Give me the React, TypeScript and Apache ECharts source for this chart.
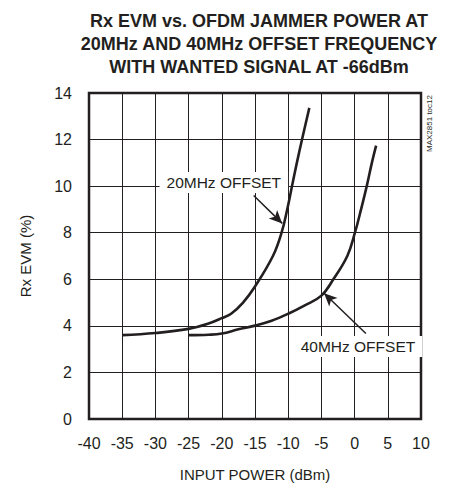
import React, { useEffect, useRef } from "react";
import * as echarts from "echarts";

const titleLines = [
  "Rx EVM vs. OFDM JAMMER POWER AT",
  "20MHz AND 40MHz OFFSET FREQUENCY",
  "WITH WANTED SIGNAL AT -66dBm",
];
const xAxisName = "INPUT POWER (dBm)";
const yAxisName = "Rx EVM (%)";
const sideNote = "MAX2851 toc12";

const xRange = [-40, 10];
const yRange = [0, 14];

const offset20Power = [-35, -30, -25, -22, -20, -18.6, -16.8, -15, -12.3, -11.0, -10.15, -9.43, -8.7, -7.92, -6.82];
const offset20Evm = [3.6, 3.69, 3.87, 4.1, 4.33, 4.52, 5.0, 5.69, 7.0, 8.0, 9.0, 10.0, 11.0, 12.0, 13.36];

const offset40Power = [-25, -22, -20, -17.5, -15, -12.5, -10, -7.5, -5, -3.2, -1.1, 0.05, 0.97, 1.83, 2.6, 3.24];
const offset40Evm = [3.6, 3.62, 3.67, 3.85, 4.01, 4.22, 4.52, 4.88, 5.3, 6.0, 7.0, 8.0, 9.0, 10.0, 11.0, 11.74];

const label20 = { text: "20MHz OFFSET", at: [-19.7, 10.16], arrowFrom: [-15.2, 9.6], arrowTo: [-10.9, 8.4] };
const label40 = { text: "40MHz OFFSET", at: [0.5, 3.11], arrowFrom: [1.7, 3.67], arrowTo: [-4.6, 5.4] };

const INK = "#231f20";
const FONT = "'Liberation Sans', Arial, Helvetica, sans-serif";

function zip(xs: number[], ys: number[]) {
  return xs.map((x, i) => [x, ys[i]]);
}

export default function App() {
  const ref = useRef<HTMLDivElement>(null);
  useEffect(() => {
    if (!ref.current) return;
    const chart = echarts.init(ref.current, null, { renderer: "svg" });
    const annotation = (lab: typeof label20) => ({
      markPoint: {
        silent: true,
        symbol: "circle",
        symbolSize: 0,
        data: [{ coord: lab.at }],
        label: {
          show: true,
          position: "inside",
          formatter: lab.text,
          color: INK,
          fontFamily: FONT,
          fontSize: 15.5,
          backgroundColor: "#fff",
          padding: [3, 7, 2, 7],
        },
      },
      markLine: {
        silent: true,
        symbol: ["none", "arrow"],
        symbolSize: [9, 13],
        lineStyle: { color: INK, width: 1.5, type: "solid" },
        label: { show: false },
        data: [[{ coord: lab.arrowFrom }, { coord: lab.arrowTo }]],
      },
    });
    const lineSeries = (name: string, xs: number[], ys: number[], lab: typeof label20) => ({
      name,
      type: "line",
      data: zip(xs, ys),
      smooth: 0.4,
      showSymbol: false,
      lineStyle: { color: INK, width: 2.6 },
      z: 3,
      ...annotation(lab),
    });
    chart.setOption({
      animation: false,
      backgroundColor: "#fff",
      title: {
        text: titleLines.join("\n"),
        left: 254,
        textAlign: "center",
        top: 4,
        textStyle: {
          fontFamily: FONT,
          fontWeight: "bold",
          fontSize: 18,
          lineHeight: 23,
          color: INK,
        },
      },
      grid: {
        left: 89,
        right: 28,
        top: 93,
        bottom: 64,
        show: true,
        borderColor: INK,
        borderWidth: 2.5,
        backgroundColor: "transparent",
      },
      xAxis: {
        type: "value",
        min: xRange[0],
        max: xRange[1],
        interval: 5,
        name: xAxisName,
        nameLocation: "middle",
        nameGap: 48,
        nameTextStyle: { fontFamily: FONT, fontSize: 15, color: INK },
        axisLine: { show: false },
        axisTick: { show: false },
        axisLabel: { fontFamily: FONT, fontSize: 16, color: INK, margin: 16 },
        splitLine: { show: true, lineStyle: { color: INK, width: 1 } },
      },
      yAxis: {
        type: "value",
        min: yRange[0],
        max: yRange[1],
        interval: 2,
        name: yAxisName,
        nameLocation: "middle",
        nameGap: 56,
        nameTextStyle: { fontFamily: FONT, fontSize: 15, color: INK },
        axisLine: { show: false },
        axisTick: { show: false },
        axisLabel: { fontFamily: FONT, fontSize: 16, color: INK, margin: 17 },
        splitLine: { show: true, lineStyle: { color: INK, width: 1 } },
      },
      series: [
        lineSeries("20MHz OFFSET", offset20Power, offset20Evm, label20),
        lineSeries("40MHz OFFSET", offset40Power, offset40Evm, label40),
      ],
      graphic: [
        {
          type: "text",
          x: 429,
          y: 123.5,
          rotation: Math.PI / 2,
          style: {
            text: sideNote,
            fontFamily: FONT,
            fontSize: 8,
            fill: INK,
            align: "center",
            verticalAlign: "middle",
          },
        },
      ],
    });
    return () => chart.dispose();
  }, []);
  return (
    <div
      ref={ref}
      style={{ position: "fixed", left: 0, top: 0, width: 449, height: 487 }}
    />
  );
}
